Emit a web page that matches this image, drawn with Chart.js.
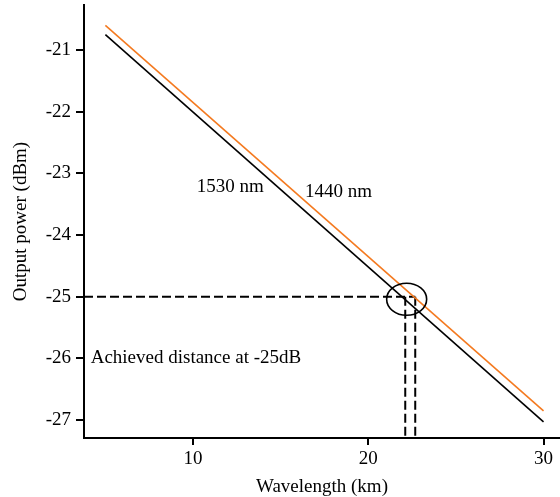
<!DOCTYPE html>
<html>
<head>
<meta charset="utf-8">
<script src="https://cdn.jsdelivr.net/npm/chart.js@4/dist/chart.umd.min.js"></script>
<style>
  html, body { margin: 0; padding: 0; background: #fff; }
  #wrap { width: 560px; height: 497px; position: relative; }
</style>
</head>
<body>
<div id="wrap"><canvas id="chart"></canvas></div>
<script>
// data
const xTicks = [10, 20, 30];
const yTicks = [-21, -22, -23, -24, -25, -26, -27];
const distanceKm = [5, 30];
const power1440 = [-20.6, -26.85];
const power1530 = [-20.75, -27.03];
const targetPower = -25;
const reach1530 = 22.11;
const reach1440 = 22.68;

const X_MIN = 3.78, X_MAX = 30.94;
const Y_MIN = -27.29, Y_MAX = -20.27;

const FONT = "'Liberation Serif', 'Times New Roman', serif";
const ORANGE = '#f47a20';

const toPts = (xs, ys) => xs.map((x, i) => ({ x, y: ys[i] }));

// circle round the -25 dBm crossing + text labels
const notes = {
    id: 'notes',
    afterDatasetsDraw(chart) {
        const { ctx, scales: { x, y } } = chart;
        ctx.save();
        // ellipse
        const cx = x.getPixelForValue(22.19);
        const cy = y.getPixelForValue(-25.04);
        ctx.beginPath();
        ctx.ellipse(cx, cy, 20, 16, 0, 0, Math.PI * 2);
        ctx.strokeStyle = '#000';
        ctx.lineWidth = 1.6;
        ctx.stroke();
        // labels
        ctx.fillStyle = '#000';
        ctx.font = `19px ${FONT}`;
        ctx.textBaseline = 'middle';
        ctx.textAlign = 'left';
        ctx.fillText('1530 nm', x.getPixelForValue(10.21), y.getPixelForValue(-23.22));
        ctx.fillText('1440 nm', x.getPixelForValue(16.39), y.getPixelForValue(-23.31));
        ctx.fillText('Achieved distance at -25dB', x.getPixelForValue(4.16), y.getPixelForValue(-26.0));
        ctx.restore();
    }
};

const dashed = {
    borderColor: '#000',
    borderWidth: 2,
    borderDash: [9, 4],
    pointRadius: 0,
    fill: false
};

new Chart(document.getElementById('chart'), {
    type: 'line',
    data: {
        datasets: [
            { label: '1440 nm', data: toPts(distanceKm, power1440), borderColor: ORANGE, borderWidth: 1.6, pointRadius: 0 },
            { label: '1530 nm', data: toPts(distanceKm, power1530), borderColor: '#000', borderWidth: 1.6, pointRadius: 0 },
            { ...dashed, data: [{ x: X_MIN, y: targetPower }, { x: reach1440, y: targetPower }] },
            { ...dashed, data: [{ x: reach1530, y: targetPower }, { x: reach1530, y: Y_MIN }] },
            { ...dashed, data: [{ x: reach1440, y: targetPower }, { x: reach1440, y: Y_MIN }] }
        ]
    },
    options: {
        responsive: true,
        maintainAspectRatio: false,
        animation: false,
        layout: { padding: { top: 5, right: 0, left: 0, bottom: 0 } },
        plugins: { legend: { display: false }, tooltip: { enabled: false } },
        scales: {
            x: {
                type: 'linear',
                min: X_MIN, max: X_MAX,
                afterBuildTicks: s => { s.ticks = xTicks.map(v => ({ value: v })); },
                afterFit: s => { s.height = 59; s.paddingLeft = 0; s.paddingRight = 0; },
                grid: { drawOnChartArea: false, drawTicks: true, tickLength: 7, color: '#000', lineWidth: 2 },
                border: { display: true, color: '#000', width: 2 },
                ticks: { color: '#000', font: { family: FONT, size: 19 }, padding: 3, maxRotation: 0 },
                title: { display: true, text: 'Wavelength (km)', color: '#000', font: { family: FONT, size: 19, lineHeight: 1 }, padding: { top: 0, bottom: 0 } }
            },
            y: {
                type: 'linear',
                min: Y_MIN, max: Y_MAX,
                afterBuildTicks: s => { s.ticks = yTicks.map(v => ({ value: v })); },
                afterFit: s => { s.width = 84; s.paddingTop = 0; s.paddingBottom = 0; },
                grid: { drawOnChartArea: false, drawTicks: true, tickLength: 8, color: '#000', lineWidth: 2 },
                border: { display: true, color: '#000', width: 2 },
                ticks: { color: '#000', font: { family: FONT, size: 19 }, padding: 5, callback: v => String(v) },
                title: { display: true, text: 'Output power (dBm)', color: '#000', font: { family: FONT, size: 19, lineHeight: 1 }, padding: { top: 12, bottom: 0 } }
            }
        }
    },
    plugins: [notes]
});
</script>
</body>
</html>
